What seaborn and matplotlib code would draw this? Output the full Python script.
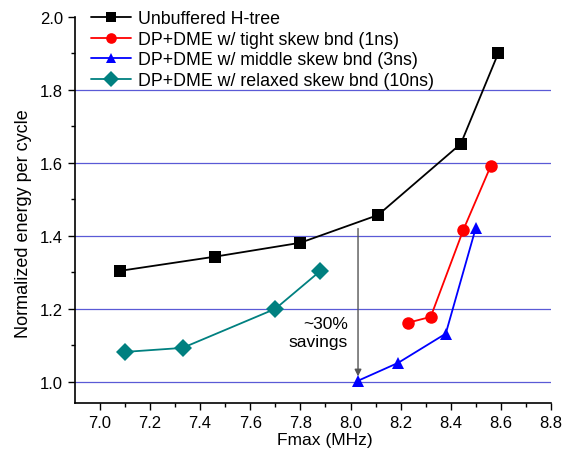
import matplotlib
matplotlib.use("Agg")
import matplotlib.pyplot as plt
import seaborn as sns
import pandas as pd

# Measured clock-tree energy vs. achievable Fmax
series_names = [
    "Unbuffered H-tree",
    "DP+DME w/ tight skew bnd (1ns)",
    "DP+DME w/ middle skew bnd (3ns)",
    "DP+DME w/ relaxed skew bnd (10ns)",
]
htree_fmax = [7.08, 7.46, 7.80, 8.11, 8.44, 8.59]
htree_energy = [1.304, 1.343, 1.381, 1.457, 1.652, 1.901]
tight_fmax = [8.23, 8.32, 8.45, 8.56]
tight_energy = [1.162, 1.178, 1.416, 1.592]
middle_fmax = [8.03, 8.19, 8.38, 8.50]
middle_energy = [1.003, 1.052, 1.132, 1.422]
relaxed_fmax = [7.10, 7.33, 7.70, 7.88]
relaxed_energy = [1.082, 1.093, 1.200, 1.304]

savings_x = 8.03
savings_top = 1.42
savings_bottom = 1.015

frames = []
for name, xs, ys in zip(series_names,
                        [htree_fmax, tight_fmax, middle_fmax, relaxed_fmax],
                        [htree_energy, tight_energy, middle_energy, relaxed_energy]):
    frames.append(pd.DataFrame({"Fmax": xs, "Energy": ys, "Series": name}))
df = pd.concat(frames, ignore_index=True)

sns.set_theme(style="ticks")
plt.rcParams["font.family"] = ["Liberation Sans", "DejaVu Sans"]
plt.rcParams["text.color"] = "black"
plt.rcParams["axes.labelcolor"] = "black"
plt.rcParams["xtick.color"] = "black"
plt.rcParams["ytick.color"] = "black"

fig = plt.figure(figsize=(5.71, 4.56), dpi=100)
ax = fig.add_axes([0.131, 0.114, 0.834, 0.847])

palette = {series_names[0]: "#000000", series_names[1]: "#ff0000",
           series_names[2]: "#0000ff", series_names[3]: "#008080"}
markers = {series_names[0]: "s", series_names[1]: "o",
           series_names[2]: "^", series_names[3]: "D"}

for y in [1.0, 1.2, 1.4, 1.6, 1.8]:
    ax.axhline(y, color="#5a5ad6", lw=0.9, zorder=0)

sns.lineplot(data=df, x="Fmax", y="Energy", hue="Series", style="Series",
             palette=palette, markers=markers, dashes=False, sort=False,
             markersize=9, markeredgewidth=0, lw=1.3, ax=ax, zorder=3)

ax.annotate("", xy=(savings_x, savings_bottom), xytext=(savings_x, savings_top),
            arrowprops=dict(arrowstyle="-|>", color="#555555", lw=1.0,
                            mutation_scale=10, shrinkA=0, shrinkB=0), zorder=2)
ax.text(7.99, 1.135, "~30%\nsavings", ha="right", va="center", fontsize=12.5,
        linespacing=1.25)

ax.set_xlim(6.9, 8.8)
ax.set_ylim(0.942, 2.0)
ax.set_xticks([7.0, 7.2, 7.4, 7.6, 7.8, 8.0, 8.2, 8.4, 8.6, 8.8])
ax.set_yticks([1.0, 1.2, 1.4, 1.6, 1.8, 2.0])
ax.set_xticks([7.1, 7.3, 7.5, 7.7, 7.9, 8.1, 8.3, 8.5, 8.7], minor=True)
ax.set_yticks([1.1, 1.3, 1.5, 1.7, 1.9], minor=True)
ax.tick_params(axis="both", which="major", length=5, width=1, labelsize=12,
               direction="out", color="black", labelcolor="black")
ax.tick_params(axis="both", which="minor", length=3, width=1, direction="out",
               color="black")
ax.set_xlabel("Fmax (MHz)", fontsize=12.5)
ax.set_ylabel("Normalized energy per cycle", fontsize=13)
ax.xaxis.set_label_coords(0.525, -0.075)
ax.yaxis.set_label_coords(-0.09, 0.466)

for side in ["top", "right"]:
    ax.spines[side].set_visible(False)
for side in ["left", "bottom"]:
    ax.spines[side].set_color("black")
    ax.spines[side].set_linewidth(1.2)

handles, labels = ax.get_legend_handles_labels()
ax.legend(handles, labels, loc="upper left", bbox_to_anchor=(0.02, 1.035),
          frameon=False, fontsize=12.8, handlelength=2.2, handletextpad=0.4,
          labelspacing=0.2, borderaxespad=0, markerscale=0.85)

fig.savefig("out.png", dpi=100, facecolor="white")
